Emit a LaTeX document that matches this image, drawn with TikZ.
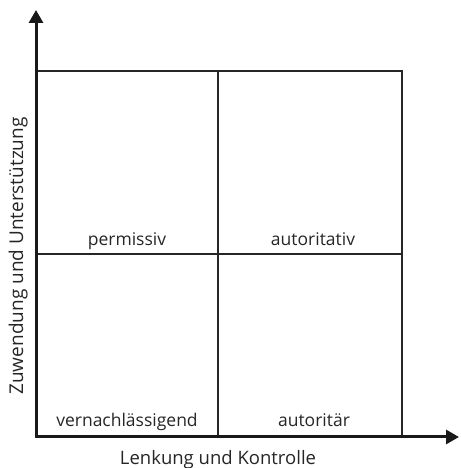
\documentclass[tikz,border=0pt]{standalone}
\usepackage{fontspec}
\setmainfont{Open Sans}
\usetikzlibrary{arrows.meta, positioning}

\begin{document}
\begin{tikzpicture}[x=1pt, y=1pt,
        axis/.style={draw=black!90, line width=3pt, -{Triangle[length=13pt, width=14pt]}},
        grid/.style={draw=black!85, line width=1.5pt},
        every node/.style={font=\fontsize{17.5}{21}\selectfont, text=black!85, inner sep=0pt}
    ]
        \useasboundingbox (0,0) rectangle (460,468);

        % Eckpunkte
        \coordinate (O) at (36,31);
        \coordinate (ytop) at (36,458);
        \coordinate (xend) at (459,31);
        \coordinate (tr) at (402,397);
        \coordinate (mid) at (218,214);

        % Raster
        \draw[grid] (O) rectangle (tr);
        \draw[grid] (mid -| O) -- (mid -| tr);
        \draw[grid] (mid |- O) -- (mid |- tr);

        % Achsen
        \draw[axis] (O) -- (ytop);
        \draw[axis] (O) -- (xend);

        % Felder
        \node[anchor=base] (perm) at (127,222) {permissiv};
        \node[anchor=base] (autv) at (313,222) {autoritativ};
        \node[anchor=base] (vern) at (127,41) {vernachlässigend};
        \node[anchor=base] (autr) at (314,41) {autoritär};

        % Achsenbeschriftung
        \node[anchor=base, font=\fontsize{18.5}{22}\selectfont] (xlab) at (218,3) {Lenkung und Kontrolle};
        \node[anchor=base, rotate=90, font=\fontsize{19}{23}\selectfont] (ylab) at (23,212) {Zuwendung und Unterstützung};
    \end{tikzpicture}
\end{document}
